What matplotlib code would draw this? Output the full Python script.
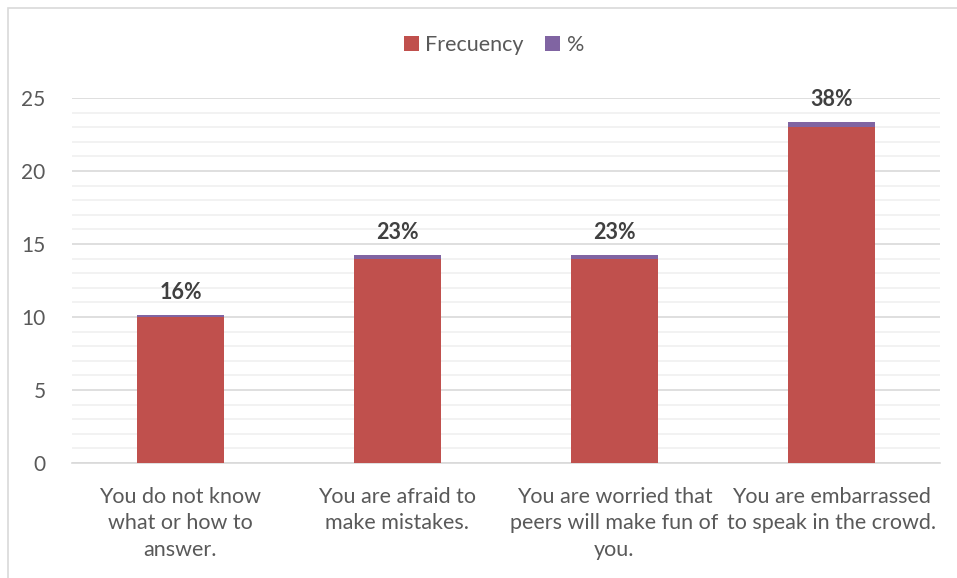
import matplotlib.pyplot as plt
import numpy as np
from matplotlib.patches import Rectangle
from matplotlib.ticker import MultipleLocator

# Donnees
categories = [
    "You do not know\nwhat or how to\nanswer.",
    "You are afraid to\nmake mistakes.",
    "You are worried that\npeers will make fun of\nyou.",
    "You are embarrassed\nto speak in the crowd.",
]
frecuency = [10, 14, 14, 23]
percent = [0.16, 0.23, 0.23, 0.38]
percent_labels = ["16%", "23%", "23%", "38%"]

RED = "#C0504D"
PURPLE = "#8064A2"
TEXT = "#595959"

plt.rcParams["font.family"] = ["Lato", "DejaVu Sans"]

fig = plt.figure(figsize=(9.57, 5.78), dpi=100)
ax = fig.add_axes([0.0752, 0.199, 0.907, 0.6315])

x = np.arange(len(categories))
ax.bar(x, frecuency, width=0.4, color=RED, label="Frecuency", zorder=3)
ax.bar(x, percent, width=0.4, bottom=frecuency, color=PURPLE, label="%", zorder=3)

# Etiquettes en pourcentage au-dessus des barres
for xi, f, p, lab in zip(x, frecuency, percent, percent_labels):
    ax.annotate(lab, (xi, f + p), xytext=(0, 16), textcoords="offset points",
                ha="center", va="center", fontsize=15.5, fontweight="bold",
                color="#404040", zorder=4)

ax.set_xlim(-0.5, len(categories) - 0.5)
ax.set_ylim(0, 25)
ax.yaxis.set_major_locator(MultipleLocator(5))
ax.yaxis.set_minor_locator(MultipleLocator(1))
ax.grid(True, which="major", axis="y", color="#D9D9D9", linewidth=1.2, zorder=0)
ax.grid(True, which="minor", axis="y", color="#F0F0F0", linewidth=1.2, zorder=0)

for side in ["top", "right", "left"]:
    ax.spines[side].set_visible(False)
ax.spines["bottom"].set_color("#D9D9D9")
ax.spines["bottom"].set_linewidth(1.2)

ax.set_xticks(x)
ax.set_xticklabels(categories, fontsize=15.5, color=TEXT, linespacing=1.42)
ax.tick_params(axis="x", length=0, pad=17)
ax.tick_params(axis="y", which="both", length=0, labelsize=15,
               labelcolor=TEXT, pad=19)

# Legende centree en haut
fig.legend(loc="center", bbox_to_anchor=(0.516, 0.922), ncol=2, frameon=False,
           fontsize=15.5, handlelength=0.7, handleheight=0.7,
           handletextpad=0.3, columnspacing=1.0, labelcolor=TEXT)

# Cadre du graphique
fig.patches.append(Rectangle((8 / 957, -0.05), 1.1, 1.05 - 7.5 / 578,
                             transform=fig.transFigure, fill=False,
                             edgecolor="#D9D9D9", linewidth=1.2))

fig.savefig("out.png", dpi=100)
